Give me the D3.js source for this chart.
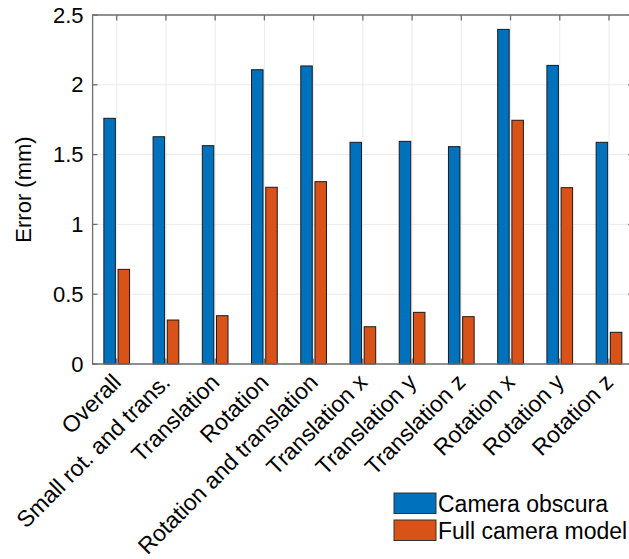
<!DOCTYPE html>
<html>
<head>
<meta charset="utf-8">
<script src="https://cdn.jsdelivr.net/npm/d3@7"></script>
<style>
  html, body { margin: 0; padding: 0; background: #fff; }
  svg { display: block; }
  text { font-family: "Liberation Sans", Arial, Helvetica, sans-serif; fill: #000; }
</style>
</head>
<body>
<svg id="chart" width="629" height="559"></svg>
<script>
// Error per test scenario for the two camera models
const categories = [
  "Overall", "Small rot. and trans.", "Translation", "Rotation",
  "Rotation and translation", "Translation x", "Translation y",
  "Translation z", "Rotation x", "Rotation y", "Rotation z"
];
const seriesNames = ["Camera obscura", "Full camera model"];
const cameraObscura   = [1.76, 1.628, 1.564, 2.108, 2.135, 1.588, 1.595, 1.557, 2.397, 2.139, 1.588];
const fullCameraModel = [0.678, 0.315, 0.346, 1.266, 1.306, 0.267, 0.370, 0.339, 1.746, 1.263, 0.227];
const yTicks = [0, 0.5, 1, 1.5, 2, 2.5];
const yTickLabels = ["0", "0.5", "1", "1.5", "2", "2.5"];
const colors = ["#0072BD", "#D95319"];
const yLabel = "Error (mm)";

const svg = d3.select("#chart");
const plotL = 92.1, plotR = 633.6, plotT = 15, plotB = 364;
const fontSize = 22;

const x = d3.scaleBand().domain(categories).range([plotL, plotR]).padding(0);
const xc = c => x(c) + x.bandwidth() / 2;
const xs = d3.scalePoint().domain(seriesNames).range([-7.1, 7.1]);
const barW = 11.5;
const y = d3.scaleLinear().domain([0, 2.5]).range([plotB, plotT]);

// grid
const grid = svg.append("g").attr("stroke", "#ebebeb").attr("stroke-width", 1);
grid.selectAll("line.gy").data(yTicks).join("line")
  .attr("x1", plotL).attr("x2", plotR)
  .attr("y1", d => y(d)).attr("y2", d => y(d));
grid.selectAll("line.gx").data(categories).join("line")
  .attr("x1", d => xc(d)).attr("x2", d => xc(d))
  .attr("y1", plotT).attr("y2", plotB);

// bars
const rows = categories.map((c, i) => ({ c, vals: [cameraObscura[i], fullCameraModel[i]] }));
const groups = svg.append("g").selectAll("g").data(rows).join("g")
  .attr("transform", d => `translate(${xc(d.c)},0)`);
groups.selectAll("rect").data(d => d.vals.map((v, k) => ({ v, k })))
  .join("rect")
  .attr("x", d => xs(seriesNames[d.k]) - barW / 2)
  .attr("width", barW)
  .attr("y", d => y(d.v))
  .attr("height", d => y(0) - y(d.v))
  .attr("fill", d => colors[d.k])
  .attr("stroke", "#1a1a1a")
  .attr("stroke-width", 1);

// axes with inward ticks (box style)
const tickLen = 5.4;
const axisColor = "#6e6e6e";
const axisLeft = d3.axisLeft(y).tickValues(yTicks).tickSize(0).tickFormat((d, i) => yTickLabels[i]).tickPadding(8.5);
const gL = svg.append("g").attr("transform", `translate(${plotL},0)`).call(axisLeft);
gL.select(".domain").attr("stroke", axisColor).attr("stroke-width", 1.3);
gL.selectAll("text").attr("font-size", fontSize).attr("font-family", "Liberation Sans, Arial, sans-serif").attr("fill", "#000");

const frame = svg.append("g").attr("stroke", axisColor).attr("stroke-width", 1.3).attr("fill", "none");
frame.append("line").attr("x1", plotL).attr("x2", plotR).attr("y1", plotT).attr("y2", plotT);
frame.append("line").attr("x1", plotL).attr("x2", plotR).attr("y1", plotB).attr("y2", plotB);
frame.append("line").attr("x1", plotR).attr("x2", plotR).attr("y1", plotT).attr("y2", plotB);
// y ticks, left and right
frame.selectAll("line.yl").data(yTicks).join("line")
  .attr("x1", plotL).attr("x2", plotL + tickLen).attr("y1", d => y(d)).attr("y2", d => y(d));
frame.selectAll("line.yr").data(yTicks).join("line")
  .attr("x1", plotR).attr("x2", plotR - tickLen).attr("y1", d => y(d)).attr("y2", d => y(d));
// x ticks, top and bottom
frame.selectAll("line.xt").data(categories).join("line")
  .attr("x1", d => xc(d)).attr("x2", d => xc(d)).attr("y1", plotT).attr("y2", plotT + tickLen);
frame.selectAll("line.xb").data(categories).join("line")
  .attr("x1", d => xc(d)).attr("x2", d => xc(d)).attr("y1", plotB).attr("y2", plotB - tickLen);

// rotated category labels
svg.append("g").selectAll("text").data(categories).join("text")
  .attr("transform", d => `translate(${xc(d)},${plotB + 14}) rotate(-45)`)
  .attr("text-anchor", "end")
  .attr("dy", "0.35em")
  .attr("font-size", 23)
  .text(d => d);

// y axis title
svg.append("text")
  .attr("transform", `translate(${31},${(plotT + plotB) / 2}) rotate(-90)`)
  .attr("text-anchor", "middle")
  .attr("font-size", fontSize)
  .text(yLabel);

// legend
const leg = svg.append("g").attr("transform", "translate(394,493)");
const legItems = leg.selectAll("g").data(seriesNames).join("g")
  .attr("transform", (d, i) => `translate(0,${i * 27})`);
legItems.append("rect")
  .attr("width", 42).attr("height", 20.5)
  .attr("fill", (d, i) => colors[i])
  .attr("stroke", "#333").attr("stroke-width", 1);
legItems.append("text")
  .attr("x", 44).attr("y", 19.3)
  .attr("font-size", 23)
  .text(d => d);
</script>
</body>
</html>
